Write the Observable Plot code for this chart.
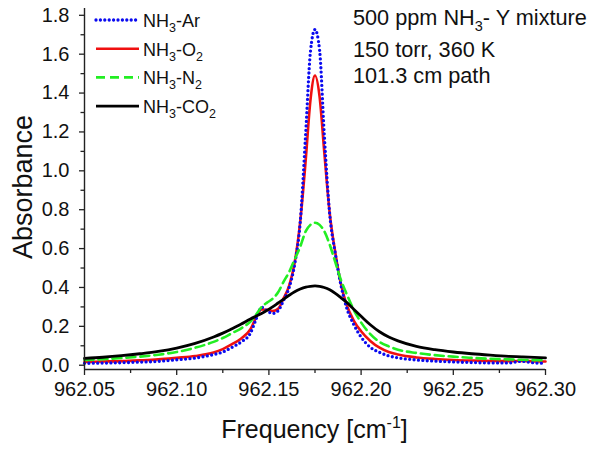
<!DOCTYPE html>
<html>
<head>
<meta charset="utf-8">
<script src="https://cdn.jsdelivr.net/npm/d3@7"></script>
<script src="https://cdn.jsdelivr.net/npm/@observablehq/plot@0.6"></script>
<style>
  html, body { margin: 0; padding: 0; background: #fff; }
  #wrap { position: relative; width: 604px; height: 449px; font-family: "Liberation Sans", Arial, sans-serif; }
  #wrap svg.overlay { position: absolute; left: 0; top: 0; pointer-events: none; }
</style>
</head>
<body>
<div id="wrap"></div>
<script>
// ---- Data ----
const freq = [962.050, 962.060, 962.070, 962.080, 962.090, 962.100, 962.110, 962.120, 962.125, 962.130,
              962.135, 962.140, 962.143, 962.146, 962.149, 962.152, 962.155, 962.158, 962.161, 962.164,
              962.167, 962.170, 962.1725, 962.175, 962.1775, 962.180, 962.183, 962.186, 962.189, 962.192,
              962.196, 962.200, 962.205, 962.210, 962.215, 962.220, 962.230, 962.240, 962.250, 962.260,
              962.270, 962.280, 962.287, 962.294, 962.300];

const absAr  = [0.010, 0.011, 0.013, 0.016, 0.020, 0.028, 0.037, 0.055, 0.068, 0.092,
                0.120, 0.165, 0.235, 0.298, 0.280, 0.266, 0.280, 0.335, 0.400, 0.520,
                0.737, 1.200, 1.610, 1.727, 1.620, 1.190, 0.775, 0.575, 0.415, 0.300,
                0.210, 0.145, 0.092, 0.066, 0.048, 0.038, 0.027, 0.021, 0.017, 0.014,
                0.012, 0.012, 0.020, 0.012, 0.010];

const absO2  = [0.017, 0.019, 0.021, 0.025, 0.030, 0.038, 0.047, 0.065, 0.083, 0.108,
                0.138, 0.185, 0.245, 0.287, 0.285, 0.279, 0.290, 0.345, 0.410, 0.530,
                0.740, 1.060, 1.360, 1.490, 1.380, 1.100, 0.780, 0.580, 0.420, 0.315,
                0.230, 0.175, 0.125, 0.090, 0.068, 0.055, 0.040, 0.032, 0.027, 0.024,
                0.022, 0.021, 0.022, 0.020, 0.019];

const absN2  = [0.027, 0.031, 0.037, 0.044, 0.054, 0.068, 0.090, 0.120, 0.140, 0.165,
                0.190, 0.225, 0.260, 0.300, 0.322, 0.342, 0.375, 0.430, 0.480, 0.545,
                0.610, 0.690, 0.722, 0.733, 0.722, 0.690, 0.620, 0.530, 0.440, 0.370,
                0.285, 0.220, 0.160, 0.120, 0.097, 0.080, 0.063, 0.052, 0.044, 0.038,
                0.033, 0.030, 0.028, 0.026, 0.025];

const absCO2 = [0.035, 0.041, 0.049, 0.059, 0.071, 0.088, 0.112, 0.145, 0.165, 0.188,
                0.212, 0.238, 0.252, 0.266, 0.282, 0.300, 0.320, 0.340, 0.360, 0.378,
                0.392, 0.402, 0.406, 0.408, 0.406, 0.400, 0.388, 0.370, 0.348, 0.325,
                0.288, 0.252, 0.208, 0.172, 0.145, 0.125, 0.097, 0.080, 0.068, 0.059,
                0.052, 0.046, 0.043, 0.040, 0.038];

const xTicks = [962.05, 962.10, 962.15, 962.20, 962.25, 962.30];
const xMinor = [962.075, 962.125, 962.175, 962.225, 962.275];
const yTicks = [0.0, 0.2, 0.4, 0.6, 0.8, 1.0, 1.2, 1.4, 1.6, 1.8];
const yMinor = [0.1, 0.3, 0.5, 0.7, 0.9, 1.1, 1.3, 1.5, 1.7];

const seriesNames = ["Ar", "O2", "N2", "CO2"];
const seriesValues = {Ar: absAr, O2: absO2, N2: absN2, CO2: absCO2};

// ---- Styles ----
const styles = {
  Ar:  {stroke: "#0a0af0", strokeWidth: 3.3, strokeDasharray: "0 4.4", strokeLinecap: "round"},
  O2:  {stroke: "#f01010", strokeWidth: 2.6},
  N2:  {stroke: "#22ee22", strokeWidth: 2.6, strokeDasharray: "9 5"},
  CO2: {stroke: "#000000", strokeWidth: 2.8}
};
const drawOrder = ["O2", "Ar", "N2", "CO2"];

const xDomain = [962.05, 962.30];
const yDomain = [-0.022, 1.835];

const rows = s => freq.map((f, i) => ({f, a: seriesValues[s][i]}));

const font = '"Liberation Sans", Arial, sans-serif';

const chart = Plot.plot({
  width: 604,
  height: 449,
  marginLeft: 84,
  marginRight: 59,
  marginTop: 8,
  marginBottom: 80,
  style: {fontFamily: font, background: "white", color: "#111"},
  x: {domain: xDomain},
  y: {domain: yDomain},
  marks: [
    ...drawOrder.map(s => Plot.line(rows(s), {x: "f", y: "a", curve: "monotone-x", ...styles[s]})),
    Plot.ruleX([xDomain[0]], {stroke: "#222", strokeWidth: 1.4}),
    Plot.ruleY([yDomain[0]], {stroke: "#222", strokeWidth: 1.4}),
    Plot.axisX({ticks: xTicks, tickFormat: d3.format(".2f"), tickSize: 6, tickPadding: 6, fontSize: 20, label: null, stroke: "#222", strokeWidth: 1.3, fill: "#111"}),
    Plot.axisX({ticks: xMinor, tickSize: 4, tickFormat: null, text: null, label: null, stroke: "#222", strokeWidth: 1.3}),
    Plot.axisY({ticks: yTicks, tickFormat: d3.format(".1f"), tickSize: 5, tickPadding: 10, fontSize: 20, label: null, stroke: "#222", strokeWidth: 1.3, fill: "#111"}),
    Plot.axisY({ticks: yMinor, tickSize: 3.5, tickFormat: null, text: null, label: null, stroke: "#222", strokeWidth: 1.3})
  ]
});

const wrap = document.getElementById("wrap");
wrap.appendChild(chart);

// ---- Overlay texts: legend, annotation, axis titles ----
const ov = d3.select(wrap).append("svg")
  .attr("class", "overlay").attr("width", 604).attr("height", 449)
  .style("font-family", font).attr("fill", "#111");

// Legend
const legendLabels = {Ar: ["NH", "3", "-Ar", ""], O2: ["NH", "3", "-O", "2"], N2: ["NH", "3", "-N", "2"], CO2: ["NH", "3", "-CO", "2"]};
seriesNames.forEach((s, i) => {
  const yLine = 20 + i * 28.7;
  const st = styles[s];
  ov.append("line").attr("x1", 96).attr("x2", 139).attr("y1", yLine).attr("y2", yLine)
    .attr("stroke", st.stroke).attr("stroke-width", st.strokeWidth)
    .attr("stroke-dasharray", st.strokeDasharray || null)
    .attr("stroke-linecap", st.strokeLinecap || null);
  const [a, b, c, d] = legendLabels[s];
  const t = ov.append("text").attr("x", 143).attr("y", yLine + 7).attr("font-size", 18);
  t.append("tspan").text(a);
  t.append("tspan").attr("font-size", 12.5).attr("dy", 5).text(b);
  t.append("tspan").attr("dy", -5).text(c);
  if (d) t.append("tspan").attr("font-size", 12.5).attr("dy", 5).text(d);
});

// Annotation
const annSize = 21.7;
const ann1 = ov.append("text").attr("x", 353).attr("y", 25).attr("font-size", annSize);
ann1.append("tspan").text("500 ppm NH");
ann1.append("tspan").attr("font-size", 14.5).attr("dy", 6).text("3");
ann1.append("tspan").attr("dy", -6).text("- Y mixture");
ov.append("text").attr("x", 353).attr("y", 57).attr("font-size", annSize).text("150 torr, 360 K");
ov.append("text").attr("x", 353).attr("y", 83).attr("font-size", annSize).text("101.3 cm path");

// X axis title
const xl = ov.append("text").attr("x", 314.5).attr("y", 438).attr("font-size", 25).attr("text-anchor", "middle");
xl.append("tspan").text("Frequency [cm");
xl.append("tspan").attr("font-size", 16).attr("dy", -10).text("-1");
xl.append("tspan").attr("dy", 10).text("]");

// Y axis title
ov.append("text").attr("transform", "translate(23,187) rotate(-90)")
  .attr("text-anchor", "middle").attr("dominant-baseline", "central")
  .attr("font-size", 27).text("Absorbance");
</script>
</body>
</html>
